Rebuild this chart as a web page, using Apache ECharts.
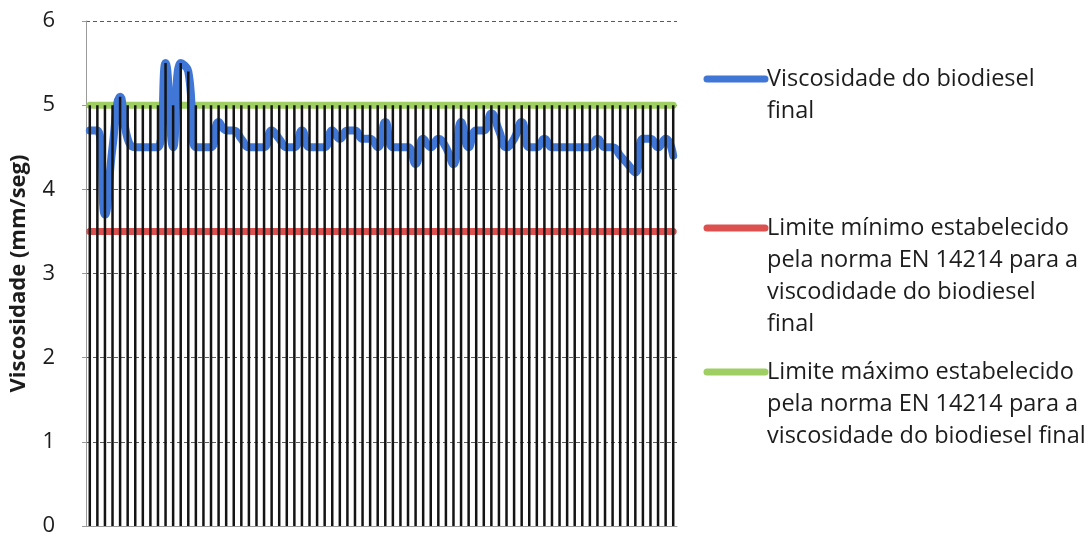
<!DOCTYPE html>
<html>
<head>
<meta charset="utf-8">
<script src="https://cdn.jsdelivr.net/npm/echarts@6/dist/echarts.min.js"></script>
<style>
  html, body { margin: 0; padding: 0; background: #ffffff; }
  #chart { width: 1090px; height: 537px; }
</style>
</head>
<body>
<div id="chart"></div>
<script>
// Sample numbers (one per measured batch)
const samples = ['1','2','3','4','5','6','7','8','9','10','11','12','13','14','15','16','17','18','19','20',
  '21','22','23','24','25','26','27','28','29','30','31','32','33','34','35','36','37','38','39','40',
  '41','42','43','44','45','46','47','48','49','50','51','52','53','54','55','56','57','58','59','60',
  '61','62','63','64','65','66','67','68','69','70','71','72','73','74','75','76','77','78'];

// Measured viscosity of the final biodiesel (mm²/s)
const viscosity = [
  4.7, 4.7, 3.7, 4.5, 5.1, 4.6, 4.5, 4.5, 4.5, 4.5,
  5.5, 4.5, 5.5, 5.4, 4.5, 4.5, 4.5, 4.8, 4.7, 4.7,
  4.6, 4.5, 4.5, 4.5, 4.7, 4.6, 4.5, 4.5, 4.7, 4.5,
  4.5, 4.5, 4.7, 4.6, 4.7, 4.7, 4.6, 4.6, 4.5, 4.8,
  4.5, 4.5, 4.5, 4.3, 4.6, 4.5, 4.6, 4.5, 4.3, 4.8,
  4.5, 4.7, 4.7, 4.9, 4.7, 4.5, 4.6, 4.8, 4.5, 4.5,
  4.6, 4.5, 4.5, 4.5, 4.5, 4.5, 4.5, 4.6, 4.5, 4.5,
  4.4, 4.3, 4.2, 4.6, 4.6, 4.5, 4.6, 4.4
];

// EN 14214 limits for viscosity
const limitMin = 3.5;
const limitMax = 5.0;

// Y axis ticks
const yTicks = [0, 1, 2, 3, 4, 5, 6];

const seriesNames = [
  'Viscosidade do biodiesel\nfinal',
  'Limite mínimo estabelecido\npela norma EN 14214 para a\nviscodidade do biodiesel\nfinal',
  'Limite máximo estabelecido\npela norma EN 14214 para a\nviscosidade do biodiesel final'
];

const colors = { blue: '#4077d6', red: '#dc5050', green: '#9fcf62' };

const minLine = samples.map(() => limitMin);
const maxLine = samples.map(() => limitMax);
// Drop lines run from the axis up to the highest series at each sample
const dropTop = viscosity.map((v, i) => Math.max(v, minLine[i], maxLine[i]));

const chart = echarts.init(document.getElementById('chart'), null, { renderer: 'canvas' });

const FONT = '"Open Sans", "Noto Sans", sans-serif';
const legendX = 707, iconLen = 58, textX = 767, lineH = 32;
const legendTops = [79, 228, 372];
const legendColors = [colors.blue, colors.red, colors.green];

const graphics = [];
seriesNames.forEach((name, k) => {
  graphics.push({
    type: 'line', silent: true,
    shape: { x1: legendX, y1: legendTops[k], x2: legendX + iconLen, y2: legendTops[k] },
    style: { stroke: legendColors[k], lineWidth: 7, lineCap: 'round' }
  });
  graphics.push({
    type: 'text', silent: true, x: textX, y: legendTops[k] - lineH / 2,
    style: { text: name, font: '23.5px ' + FONT, fill: '#1c1c1c', lineHeight: lineH, verticalAlign: 'top' }
  });
});

chart.setOption({
  animation: false,
  backgroundColor: '#ffffff',
  grid: { left: 85, right: 413, top: 21, bottom: 7, containLabel: false },
  xAxis: {
    type: 'category',
    data: samples,
    boundaryGap: true,
    axisLine: { show: true, lineStyle: { color: '#9a9a9a', width: 1 } },
    axisTick: { show: false },
    axisLabel: { show: false },
    splitLine: { show: false }
  },
  yAxis: {
    type: 'value',
    min: yTicks[0],
    max: yTicks[yTicks.length - 1],
    interval: 1,
    name: 'Viscosidade (mm/seg)',
    nameLocation: 'middle',
    nameGap: 56,
    nameRotate: 90,
    nameTextStyle: { fontFamily: FONT, fontSize: 22, fontWeight: 'bold', color: '#1c1c1c' },
    axisLine: { show: true, lineStyle: { color: '#9a9a9a', width: 1 } },
    axisTick: { show: true, length: 4, lineStyle: { color: '#9a9a9a' } },
    axisLabel: { fontFamily: FONT, fontSize: 22, color: '#1c1c1c', margin: 31 },
    splitLine: { show: true, lineStyle: { color: '#5a5a5a', width: 1, type: [4, 3] } }
  },
  graphic: graphics,
  series: [
    {
      name: seriesNames[1], type: 'line', data: minLine, z: 2,
      symbol: 'none', lineStyle: { color: colors.red, width: 7, cap: 'round' }
    },
    {
      name: seriesNames[2], type: 'line', data: maxLine, z: 2,
      symbol: 'none', lineStyle: { color: colors.green, width: 7, cap: 'round' }
    },
    {
      name: seriesNames[0], type: 'line', data: viscosity, z: 3,
      symbol: 'none', smooth: 0.5,
      lineStyle: { color: colors.blue, width: 8, cap: 'round', join: 'round' }
    },
    {
      name: 'drop', type: 'bar', data: dropTop, z: 5, silent: true,
      barWidth: 2.5,
      itemStyle: { color: '#141414' }
    }
  ]
});
</script>
</body>
</html>
